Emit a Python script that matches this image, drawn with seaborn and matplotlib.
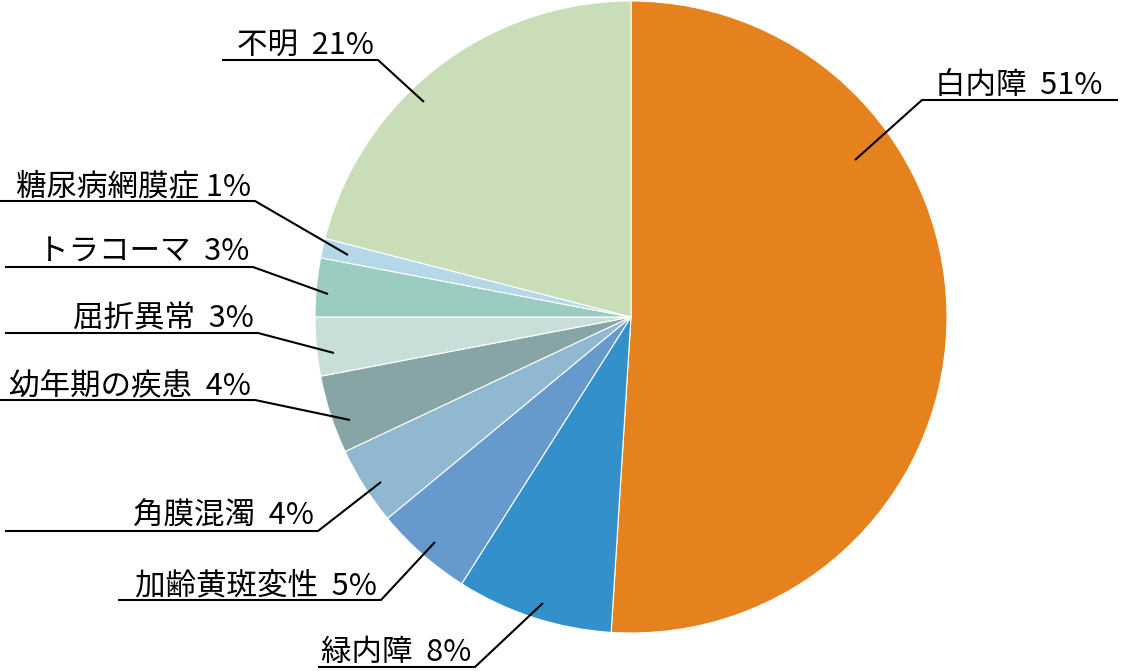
# 失明原因の円グラフ
import matplotlib
matplotlib.use("Agg")
import matplotlib.pyplot as plt
import seaborn as sns

# data (clockwise from 12 o'clock)
causes = ["白内障", "緑内障", "加齢黄斑変性", "角膜混濁", "幼年期の疾患",
          "屈折異常", "トラコーマ", "糖尿病網膜症", "不明"]
shares = [51, 8, 5, 4, 4, 3, 3, 1, 21]
label_texts = ["白内障  51%", "緑内障  8%", "加齢黄斑変性  5%", "角膜混濁  4%",
               "幼年期の疾患  4%", "屈折異常  3%", "トラコーマ  3%",
               "糖尿病網膜症 1%", "不明  21%"]
colors = ["#E6821E", "#3390CA", "#6699CC", "#90B8D0", "#87A4A6",
          "#C8DED8", "#9BCCC2", "#B4D8E8", "#CADDB9"]

sns.set_theme(style="white")
plt.rcParams["font.family"] = ["Noto Sans CJK JP", "DejaVu Sans"]

W, H = 1121, 671
fig = plt.figure(figsize=(W / 100, H / 100), dpi=100)
ax = fig.add_axes([0, 0, 1, 1])

ax.pie(shares, colors=colors, startangle=90, counterclock=False,
       center=(631, H - 317), radius=316,
       wedgeprops=dict(edgecolor="white", linewidth=0.8))
ax.set_xlim(0, W)
ax.set_ylim(0, H)
ax.set_aspect("equal")
ax.axis("off")

# leader lines: (point in slice, elbow, far end of underline, side)  -- pixel coords from top
leaders = [
    ((855, 160), (922, 100), 1118, "right"),
    ((543, 603), (475, 667), 318, "left"),
    ((435, 542), (381, 600), 118, "left"),
    ((381, 482), (318, 531), 5, "left"),
    ((350, 420), (255, 400), 0, "left"),
    ((334, 353), (258, 333), 5, "left"),
    ((328, 294), (253, 267), 5, "left"),
    ((348, 255), (255, 201), 0, "left"),
    ((424, 102), (378, 60), 222, "left"),
]

for txt, (p, e, end, side) in zip(label_texts, leaders):
    ax.plot([p[0], e[0], end], [H - p[1], H - e[1], H - e[1]],
            color="black", lw=1.5, solid_capstyle="butt")
    if side == "right":
        ax.text(e[0] + 13, H - e[1] + 6, txt, ha="left", va="baseline",
                fontsize=22, color="black")
    else:
        ax.text(e[0] - 4, H - e[1] + 6, txt, ha="right", va="baseline",
                fontsize=22, color="black")

fig.savefig("out.png", dpi=100)
